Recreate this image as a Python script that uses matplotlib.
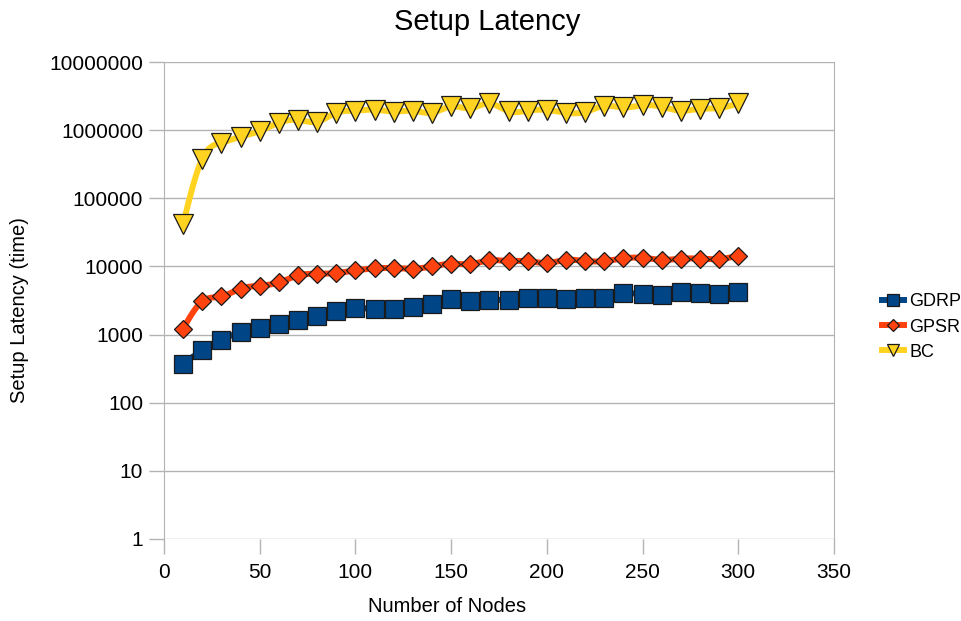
import matplotlib
matplotlib.use("Agg")
import matplotlib.pyplot as plt
import numpy as np

plt.rcParams['font.family'] = ['Liberation Sans', 'DejaVu Sans']

nodes = list(range(10, 310, 10))

gdrp = [374, 586, 841, 1077, 1248, 1445, 1637, 1893, 2240, 2455,
        2370, 2370, 2510, 2840, 3280, 3100, 3240, 3210, 3400, 3480,
        3330, 3480, 3480, 4020, 3890, 3800, 4200, 4070, 3890, 4160]
gpsr = [1220, 3070, 3630, 4710, 5210, 5820, 7380, 7810, 8000, 8740,
        9350, 9470, 9250, 10000, 10950, 10800, 12300, 12000, 12000, 11200,
        12500, 12000, 12000, 13100, 13400, 12500, 13000, 13000, 12800, 14400]
bc = [42000, 381000, 655000, 802000, 970000, 1285000, 1410000, 1330000, 1800000, 1930000,
      2000000, 1870000, 1930000, 1800000, 2230000, 2090000, 2470000, 1890000, 1930000, 1975000,
      1800000, 1846000, 2275000, 2150000, 2314000, 2200000, 1930000, 2055000, 2110000, 2470000]

series = [
    ("GDRP", gdrp, "#004586", "s", 13.3),
    ("GPSR", gpsr, "#ff420e", "D", 9.5),
    ("BC", bc, "#ffd320", "v", 13.8),
]


def smooth(x, y, n=20):
    # natural cubic spline through the points, done in log space
    x = np.asarray(x, float)
    ly = np.log10(np.asarray(y, float))
    k = len(x)
    h = np.diff(x)
    A = np.zeros((k, k))
    r = np.zeros(k)
    A[0, 0] = A[-1, -1] = 1
    for i in range(1, k - 1):
        A[i, i - 1] = h[i - 1]
        A[i, i] = 2 * (h[i - 1] + h[i])
        A[i, i + 1] = h[i]
        r[i] = 3 * ((ly[i + 1] - ly[i]) / h[i] - (ly[i] - ly[i - 1]) / h[i - 1])
    c = np.linalg.solve(A, r)
    xs, ys = [], []
    for i in range(k - 1):
        b = (ly[i + 1] - ly[i]) / h[i] - h[i] * (2 * c[i] + c[i + 1]) / 3
        d = (c[i + 1] - c[i]) / (3 * h[i])
        t = np.linspace(0, h[i], n, endpoint=False)
        xs.append(x[i] + t)
        ys.append(ly[i] + b * t + c[i] * t ** 2 + d * t ** 3)
    xs.append([x[-1]])
    ys.append([ly[-1]])
    return np.concatenate(xs), 10 ** np.concatenate(ys)


fig = plt.figure(figsize=(9.61, 6.21), dpi=100)
ax = fig.add_axes([164 / 961, 82 / 621, 670 / 961, 477 / 621])

handles = []
for name, vals, col, mk, ms in series:
    sx, sy = smooth(nodes, vals)
    ax.plot(sx, sy, color=col, lw=4.3, solid_capstyle='butt', zorder=2)
    ax.plot(nodes, vals, ls='none', marker=mk, ms=ms, mfc=col,
            mec='#1a1a1a', mew=0.9, zorder=3)
    h, = ax.plot([], [], color=col, lw=4.3, marker=mk, ms=ms * 0.6,
                 mfc=col, mec='#1a1a1a', mew=0.9, label=name)
    handles.append(h)

ax.set_yscale('log')
ax.set_ylim(1, 1e7)
ax.set_xlim(0, 350)
ax.set_xticks(range(0, 351, 50))
ax.set_yticks([10 ** i for i in range(8)])
ax.set_yticklabels([str(10 ** i) for i in range(8)])
ax.yaxis.set_minor_locator(matplotlib.ticker.NullLocator())

ax.grid(axis='y', color='#b3b3b3', lw=1)
for s in ['top', 'bottom']:
    ax.spines[s].set_visible(False)
for s in ['left', 'right']:
    ax.spines[s].set_color('#b3b3b3')
ax.tick_params(axis='both', color='#b3b3b3', length=11, width=1,
               labelsize=15, pad=6, labelcolor='black')
ax.tick_params(axis='y', pad=4)

fig.text(487 / 961, 1 - 22 / 621, "Setup Latency", ha='center', va='center', fontsize=21)
fig.text(447 / 961, 1 - 607 / 621, "Number of Nodes", ha='center', va='center', fontsize=14.5)
fig.text(20 / 961, 1 - 310 / 621, "Setup Latency (time)", ha='center', va='center',
         rotation=90, fontsize=14.5)

fig.legend(handles=handles, loc='center left', bbox_to_anchor=(875 / 961, 1 - 327 / 621),
           frameon=False, fontsize=13, handlelength=1.2, handletextpad=0.3,
           labelspacing=0.45, borderaxespad=0)

fig.savefig("out.png", dpi=100)
